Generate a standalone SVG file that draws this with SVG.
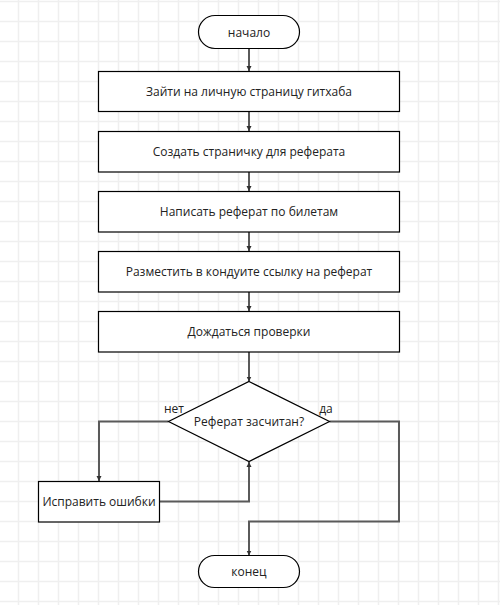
<svg xmlns="http://www.w3.org/2000/svg" width="500" height="605" viewBox="0 0 500 605">
<defs>
<pattern id="grid" width="20" height="20" patternUnits="userSpaceOnUse">
<path d="M18.5 0V20M0 1.5H20" fill="none" stroke="#efefef" stroke-width="1.5"/>
</pattern>
<marker id="arr" markerUnits="userSpaceOnUse" markerWidth="6" markerHeight="6" refX="5" refY="3" orient="auto">
<path d="M0,0.5 L5,3 L0,5.5 z" fill="#333"/>
</marker>
<style>
.sh{fill:#fff;stroke:#000;stroke-width:1.2}
.t{font-family:"Open Sans","Noto Sans",sans-serif;font-size:12px;fill:#222;text-anchor:middle;dominant-baseline:central}
.c{fill:none;stroke:#5a5a5a;stroke-width:2;marker-end:url(#arr)}
.c2{fill:none;stroke:#5a5a5a;stroke-width:2}
</style>
</defs>
<rect width="500" height="605" fill="#fff"/>
<rect width="500" height="605" fill="url(#grid)"/>
<g id="connectors">
<path class="c" d="M249 48.5V71"/>
<path class="c" d="M249 111.5V131"/>
<path class="c" d="M249 172V191"/>
<path class="c" d="M249 232V251"/>
<path class="c" d="M249 292V311"/>
<path class="c" d="M249 352V381.5"/>
<path class="c" d="M168.5 421.5H99V481"/>
<path class="c" d="M159.5 501.5H249V462"/>
<path class="c" d="M329.5 421.5H399V521.5H249V555.5"/>
<text class="t" x="174" y="408">нет</text>
<text class="t" x="326" y="408">да</text>
</g>
<g id="start"><rect class="sh" x="198.5" y="15.5" width="101" height="33" rx="16.5"/><text class="t" x="249" y="32">начало</text></g>
<g id="step1"><rect class="sh" x="98.5" y="71.5" width="301" height="40"/><text class="t" x="249" y="91.5">Зайти на личную страницу гитхаба</text></g>
<g id="step2"><rect class="sh" x="98.5" y="131.5" width="301" height="40.5"/><text class="t" x="249" y="151.5">Создать страничку для реферата</text></g>
<g id="step3"><rect class="sh" x="98.5" y="191.5" width="301" height="40.5"/><text class="t" x="249" y="211.5">Написать реферат по билетам</text></g>
<g id="step4"><rect class="sh" x="98.5" y="251.5" width="301" height="40.5"/><text class="t" x="249" y="271.5">Разместить в кондуите ссылку на реферат</text></g>
<g id="step5"><rect class="sh" x="98.5" y="311.5" width="301" height="40.5"/><text class="t" x="249" y="331.5">Дождаться проверки</text></g>
<g id="decision"><path class="sh" d="M249 381.5L329.5 421.5L249 461.5L168.5 421.5Z"/><text class="t" x="249" y="421.5">Реферат засчитан?</text></g>
<g id="fix"><rect class="sh" x="38.5" y="481.5" width="121" height="40.5"/><text class="t" x="99" y="501.5">Исправить ошибки</text></g>
<g id="end"><rect class="sh" x="198.5" y="555.5" width="101" height="32" rx="16"/><text class="t" x="249" y="571.5">конец</text></g>
</svg>
